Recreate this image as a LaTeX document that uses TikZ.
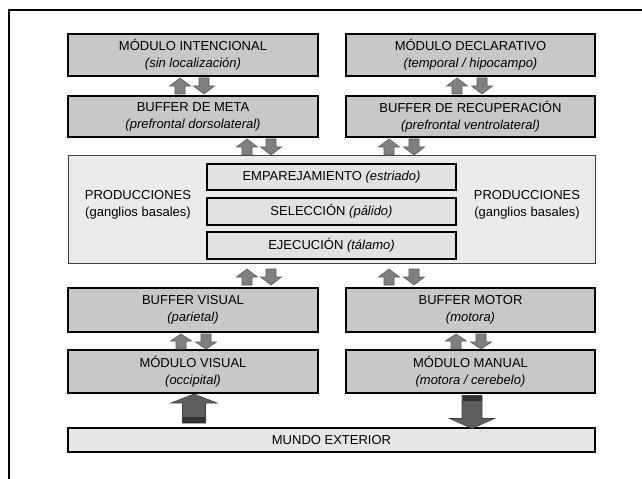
\documentclass[tikz,border=0pt]{standalone}
\usepackage{fontspec}
\setmainfont{Liberation Sans}
\definecolor{boxgray}{HTML}{C8C8C8}
\definecolor{prodgray}{HTML}{EBEBEB}
\definecolor{innergray}{HTML}{E2E2E2}
\definecolor{worldgray}{HTML}{E6E6E6}
\definecolor{arrgray}{HTML}{808080}
\definecolor{arredge}{HTML}{5A5A5A}
\definecolor{bigarr}{HTML}{5E5E5E}
\definecolor{bigedge}{HTML}{404040}
\definecolor{band}{HTML}{333333}
\tikzset{
  txt/.style={font=\fontsize{13bp}{17bp}\selectfont, text=black},
  box/.style={txt, draw=black, line width=2.2bp, fill=boxgray, minimum width=250bp,
              minimum height=42bp, align=center, inner sep=0pt},
  prodbox/.style={draw=bigedge, line width=1bp, fill=prodgray, minimum width=526bp,
              minimum height=107bp, inner sep=0pt},
  innerbox/.style={txt, draw=black, line width=2.2bp, fill=innergray, minimum width=249bp,
              minimum height=26bp, inner sep=0pt},
  worldbox/.style={txt, draw=black, line width=2.2bp, fill=worldgray, minimum width=527bp,
              minimum height=24bp, inner sep=0pt},
  smallarrow/.style={fill=arrgray, draw=arredge, line width=0.6bp},
  bigarrow/.style={fill=bigarr, draw=bigedge, line width=0.6bp},
  pics/uparr/.style n args={4}{code={
    \path[pic actions] (0,0) -- (#1/2,#4) -- (#2/2,#4) -- (#2/2,#3) -- (-#2/2,#3)
      -- (-#2/2,#4) -- (-#1/2,#4) -- cycle;
  }},
  pics/dnarr/.style n args={4}{code={
    \path[pic actions] (-#2/2,0) -- (#2/2,0) -- (#2/2,#3-#4) -- (#1/2,#3-#4) -- (0,#3)
      -- (-#1/2,#3-#4) -- (-#2/2,#3-#4) -- cycle;
  }},
}
\begin{document}
\begin{tikzpicture}[x=1bp,y=-1bp]
\useasboundingbox (0,0) rectangle (642,479);
\draw[line width=2bp] (9,479) -- (9,10) -- (642,10);

% top rows
\node[box] (mi) at (193,55) {MÓDULO INTENCIONAL\\\textit{(sin localización)}};
\node[box, minimum width=249bp] (md) at (470.5,55) {MÓDULO DECLARATIVO\\\textit{(temporal / hipocampo)}};
\node[box, minimum height=41bp] (bm) at (193,116.5) {BUFFER DE META\\\textit{(prefrontal dorsolateral)}};
\node[box, minimum width=249bp, minimum height=41bp] (br) at (470.5,116.5) {BUFFER DE RECUPERACIÓN\\\textit{(prefrontal ventrolateral)}};

% productions
\node[prodbox] (prod) at (332,209.5) {};
\node[txt, align=center] (pl) at (138,204.5) {PRODUCCIONES\\(ganglios basales)};
\node[txt, align=center] (pr) at (527,204.5) {PRODUCCIONES\\(ganglios basales)};
\node[innerbox] (emp) at (331.5,177) {EMPAREJAMIENTO \textit{(estriado)}};
\node[innerbox, minimum height=27bp] (sel) at (331.5,211.5) {SELECCIÓN \textit{(pálido)}};
\node[innerbox, minimum height=27bp] (eje) at (331.5,245.5) {EJECUCIÓN \textit{(tálamo)}};

% lower rows
\node[box, minimum height=44bp] (bv) at (193,310) {BUFFER VISUAL\\\textit{(parietal)}};
\node[box, minimum width=249bp, minimum height=44bp] (bmo) at (470.5,310) {BUFFER MOTOR\\\textit{(motora)}};
\node[box, minimum height=43bp] (mv) at (193,371.5) {MÓDULO VISUAL\\\textit{(occipital)}};
\node[box, minimum width=249bp, minimum height=43bp] (mm) at (470.5,371.5) {MÓDULO MANUAL\\\textit{(motora / cerebelo)}};
\node[worldbox] (me) at (331.5,440) {MUNDO EXTERIOR};

% small arrows: module <-> buffer (top)
\pic[smallarrow] at (180,78) {uparr={21}{10}{16}{8}};
\pic[smallarrow] at (204,78) {dnarr={21}{10}{16}{8}};
\pic[smallarrow] at (457,78) {uparr={21}{10}{16}{8}};
\pic[smallarrow] at (482,78) {dnarr={21}{10}{16}{8}};
% buffer <-> productions
\pic[smallarrow] at (247,139) {uparr={21}{10}{16}{8}};
\pic[smallarrow] at (271,139) {dnarr={21}{10}{16}{8}};
\pic[smallarrow] at (389,139) {uparr={21}{10}{16}{8}};
\pic[smallarrow] at (414,139) {dnarr={21}{10}{16}{8}};
% productions <-> lower buffers
\pic[smallarrow] at (247,269) {uparr={21}{10}{16}{8}};
\pic[smallarrow] at (271,269) {dnarr={21}{10}{16}{8}};
\pic[smallarrow] at (389,269) {uparr={21}{10}{16}{8}};
\pic[smallarrow] at (414,269) {dnarr={21}{10}{16}{8}};
% lower buffers <-> modules
\pic[smallarrow] at (181,334) {uparr={21}{10}{15}{7}};
\pic[smallarrow] at (206,334) {dnarr={21}{10}{15}{7}};
\pic[smallarrow] at (456,334) {uparr={21}{10}{15}{7}};
\pic[smallarrow] at (481,334) {dnarr={21}{10}{15}{7}};

% big arrows to/from the outside world
\pic[bigarrow] at (194,394) {uparr={46}{23}{29}{9}};
\fill[band] (183,417) rectangle (205,422.5);
\pic[bigarrow] at (472,395.5) {dnarr={45}{20}{33}{10}};
\fill[band] (462.5,396) rectangle (481.5,401);
\end{tikzpicture}
\end{document}
